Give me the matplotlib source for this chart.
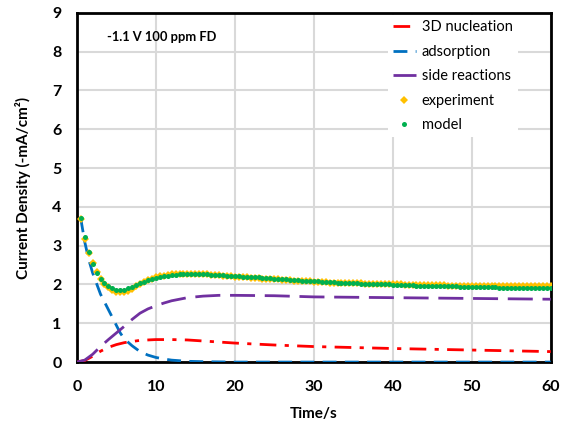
import numpy as np
import matplotlib
matplotlib.use("Agg")
import matplotlib.pyplot as plt

# ---- data ----
t_nuc = [0, 1, 2, 3, 4, 5, 6, 7, 8, 10, 12, 14, 17, 20, 25, 30, 40, 50, 60]
nucleation = [0, 0.04, 0.15, 0.28, 0.38, 0.45, 0.50, 0.53, 0.56, 0.58, 0.58, 0.57, 0.53, 0.49, 0.44, 0.40, 0.35, 0.31, 0.27]

t_ads = [0.5, 1, 1.5, 2, 3, 4, 5, 5.5, 6, 7, 8, 9, 10, 11, 12, 14, 16, 20, 30, 40, 50, 60]
adsorption = [3.7, 3.1, 2.65, 2.3, 1.75, 1.35, 0.95, 0.75, 0.6, 0.42, 0.27, 0.18, 0.12, 0.08, 0.05, 0.02, 0.01, 0, 0, 0, 0, 0]

t_side = [0, 1, 2, 3, 4, 5, 6, 7, 8, 9, 10, 11, 12, 13, 14, 16, 18, 20, 25, 30, 40, 50, 60]
side = [0, 0.05, 0.2, 0.4, 0.58, 0.75, 0.92, 1.1, 1.26, 1.37, 1.45, 1.52, 1.58, 1.62, 1.66, 1.70, 1.72, 1.72, 1.71, 1.68, 1.66, 1.64, 1.62]

t_pts = np.arange(0.5, 60.01, 0.5)
experiment = [
    3.68, 3.18, 2.80, 2.55, 2.33, 2.15, 2.02, 1.93, 1.86, 1.81,
    1.80, 1.81, 1.84, 1.89, 1.95, 2.01, 2.06, 2.11, 2.15, 2.18,
    2.21, 2.23, 2.25, 2.26, 2.27, 2.28, 2.28, 2.28, 2.28, 2.28,
    2.27, 2.27, 2.26, 2.25, 2.25, 2.24, 2.23, 2.22, 2.21, 2.20,
    2.19, 2.19, 2.18, 2.17, 2.17, 2.16, 2.15, 2.15, 2.14, 2.13,
    2.13, 2.12, 2.11, 2.11, 2.10, 2.09, 2.09, 2.08, 2.08, 2.07,
    2.06, 2.06, 2.06, 2.05, 2.05, 2.05, 2.04, 2.04, 2.04, 2.03,
    2.03, 2.03, 2.02, 2.02, 2.02, 2.01, 2.01, 2.01, 2.00, 2.00,
    2.00, 2.00, 1.99, 1.99, 1.99, 1.99, 1.99, 1.98, 1.98, 1.98,
    1.98, 1.98, 1.98, 1.97, 1.97, 1.97, 1.97, 1.97, 1.97, 1.97,
    1.97, 1.97, 1.97, 1.96, 1.96, 1.96, 1.96, 1.96, 1.96, 1.96,
    1.96, 1.96, 1.96, 1.96, 1.96, 1.96, 1.96, 1.96, 1.96, 1.96,
]
model = [
    3.72, 3.22, 2.83, 2.52, 2.30, 2.15, 2.04, 1.96, 1.90, 1.87,
    1.86, 1.87, 1.90, 1.94, 1.98, 2.03, 2.07, 2.11, 2.14, 2.17,
    2.19, 2.21, 2.23, 2.24, 2.25, 2.26, 2.26, 2.27, 2.27, 2.27,
    2.27, 2.26, 2.26, 2.25, 2.25, 2.24, 2.24, 2.23, 2.22, 2.22,
    2.21, 2.20, 2.20, 2.19, 2.18, 2.18, 2.17, 2.16, 2.16, 2.15,
    2.14, 2.14, 2.13, 2.12, 2.12, 2.11, 2.10, 2.10, 2.09, 2.08,
    2.08, 2.07, 2.07, 2.06, 2.06, 2.05, 2.05, 2.04, 2.04, 2.03,
    2.03, 2.02, 2.02, 2.02, 2.01, 2.01, 2.00, 2.00, 2.00, 1.99,
    1.99, 1.99, 1.98, 1.98, 1.98, 1.97, 1.97, 1.97, 1.96, 1.96,
    1.96, 1.96, 1.95, 1.95, 1.95, 1.95, 1.94, 1.94, 1.94, 1.94,
    1.94, 1.93, 1.93, 1.93, 1.93, 1.93, 1.92, 1.92, 1.92, 1.92,
    1.92, 1.92, 1.91, 1.91, 1.91, 1.91, 1.91, 1.91, 1.91, 1.91,
]

x_ticks = [0, 10, 20, 30, 40, 50, 60]
y_ticks = list(range(0, 10))

# ---- plot ----
plt.rcParams['font.family'] = ['Lato', 'DejaVu Sans']
fig = plt.figure(figsize=(5.69, 4.29), dpi=100)
ax = fig.add_axes([0.135, 0.156, 0.833, 0.814])

ax.plot(t_nuc, nucleation, color='#FF0000', lw=2, linestyle=(0, (6, 3, 1.5, 3)),
        label='3D nucleation', zorder=3)
ax.plot(t_ads, adsorption, color='#0070C0', lw=2, linestyle=(0, (5, 3)),
        label='adsorption', zorder=3)
ax.plot(t_side, side, color='#7030A0', lw=2, linestyle=(0, (9, 3.5)),
        label='side reactions', zorder=3)
ax.plot(t_pts, experiment, linestyle='none', marker='D', ms=3.8, color='#FFC000',
        markeredgewidth=0, label='experiment', zorder=4)
ax.plot(t_pts, model, linestyle='none', marker='o', ms=3.6, color='#00B050',
        markeredgewidth=0, label='model', zorder=5)

ax.set_xlim(0, 60)
ax.set_ylim(0, 9)
ax.set_xticks(x_ticks)
ax.set_yticks(y_ticks)
ax.grid(True, color='#D9D9D9', lw=1.5)
ax.set_axisbelow(True)
ax.tick_params(length=0, labelsize=11.5)
ax.tick_params(axis='x', pad=13)
ax.tick_params(axis='y', pad=11)
for lab in ax.get_xticklabels() + ax.get_yticklabels():
    lab.set_fontweight('bold')
for s in ax.spines.values():
    s.set_color('black')
    s.set_linewidth(2)

ax.set_xlabel('Time/s', fontsize=11, fontweight='bold', labelpad=9)
ax.set_ylabel('Current Density (-mA/cm²)', fontsize=11, fontweight='bold', labelpad=15)

ax.text(3.8, 8.38, '-1.1 V 100 ppm FD', fontsize=9.3, fontweight='bold', va='center')

leg = ax.legend(loc='upper right', bbox_to_anchor=(0.935, 1.0), fontsize=10.5,
                frameon=True, fancybox=False, framealpha=1, edgecolor='none',
                handlelength=1.6, handletextpad=0.4, labelspacing=0.72,
                borderaxespad=0.15, borderpad=0.35)
leg.get_frame().set_linewidth(0)

fig.savefig('out.png', dpi=100)
